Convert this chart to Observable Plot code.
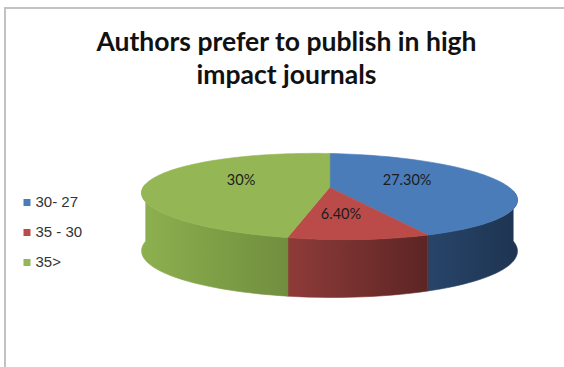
<!DOCTYPE html>
<html><head><meta charset="utf-8">
<script src="https://cdn.jsdelivr.net/npm/d3@7"></script>
<script src="https://cdn.jsdelivr.net/npm/@observablehq/plot@0.6"></script>
<style>
html,body{margin:0;padding:0;background:#fff;}
#wrap{position:relative;width:564px;height:367px;overflow:hidden;}
#wrap svg{position:absolute;left:0;top:0;}
#frame{position:absolute;left:4px;top:7px;width:560px;height:360px;border-left:2px solid #c2c2c2;border-top:2px solid #c2c2c2;pointer-events:none;}
</style></head><body><div id="wrap"><div id="frame"></div></div>
<script>
const titleLines = ["Authors prefer to publish in high", "impact journals"];
const categories = ["30- 27", "35 - 30", "35>"];
const values = [27.3, 6.4, 30];
const valueLabels = ["27.30%", "6.40%", "30%"];
const topColors = ["#4a7cb9", "#bb4b48", "#95b654"];
const wallStops = [["#28456a", "#1e3451"], ["#8e3b39", "#5c2524"], ["#8db04f", "#718e3e"]];

// pie geometry (3D perspective-like projection)
const cx = 329, cy = 187, C = 183.8, B = 41.1, k = 0.209, tilt = 3.5;
function proj(r, deg) {
  const t = deg * Math.PI / 180, X = r * Math.sin(t), Z = r * Math.cos(t), s = 1 / (1 + k * Z);
  return [cx + C * X * s, cy - B * Z * s + tilt * X * s];
}
function thick(deg) {
  const t = deg * Math.PI / 180, X = Math.sin(t), Z = Math.cos(t);
  return 53.6 - 4.4 * Z - 3.5 * X;
}
function angles(a0, a1) {
  const n = Math.max(2, Math.ceil((a1 - a0) / 2)), out = [];
  for (let j = 0; j <= n; j++) out.push(a0 + (a1 - a0) * j / n);
  return out;
}

const total = d3.sum(values);
let acc = 0;
const slices = values.map((v, i) => {
  const a0 = acc / total * 360; acc += v; const a1 = acc / total * 360;
  return {i, a0, a1, label: valueLabels[i]};
});

const wallData = [], topData = [];
slices.forEach(s => {
  const b0 = Math.max(s.a0, 90), b1 = Math.min(s.a1, 270);
  if (b1 > b0) {
    const angs = angles(b0, b1);
    angs.forEach(a => { const [x, y] = proj(1, a); wallData.push({i: s.i, x, y}); });
    angs.slice().reverse().forEach(a => { const [x, y] = proj(1, a); wallData.push({i: s.i, x, y: y + thick(a)}); });
  }
  topData.push({i: s.i, x: cx, y: cy});
  angles(s.a0, s.a1).forEach(a => { const [x, y] = proj(1, a); topData.push({i: s.i, x, y}); });
});

function labelPos(s) {
  const alpha = (s.a1 - s.a0) / 2 * Math.PI / 180;
  const d = 2 * Math.sin(alpha) / (3 * alpha);
  return proj(d, (s.a0 + s.a1) / 2);
}

const legend = categories.map((c, i) => ({c, i}));
const titles = titleLines.map((t, i) => ({t, i}));

const marks = [];
slices.forEach(s => {
  const pts = wallData.filter(d => d.i === s.i);
  if (pts.length) marks.push(Plot.line(pts, {x: "x", y: "y", curve: "linear-closed", fill: `url(#wall${s.i})`, stroke: `url(#wall${s.i})`, strokeWidth: 0.6}));
});
slices.forEach(s => {
  marks.push(Plot.line(topData.filter(d => d.i === s.i), {x: "x", y: "y", curve: "linear-closed", fill: topColors[s.i], stroke: topColors[s.i], strokeWidth: 0.6}));
});
marks.push(Plot.text(slices, {x: d => labelPos(d)[0], y: d => labelPos(d)[1], text: "label", dx: -7, dy: -4, fontFamily: "Lato", fontSize: 14.5, fill: "#1c1c1c"}));
marks.push(Plot.dot(legend, {x: 26.5, y: d => 202 + 30 * d.i, symbol: "square", r: 3.95, fill: d => topColors[d.i], stroke: null}));
marks.push(Plot.text(legend, {x: 35, y: d => 202 + 30 * d.i, text: "c", textAnchor: "start", lineAnchor: "middle", fontFamily: "Liberation Sans", fontSize: 15, fill: "#333"}));
marks.push(Plot.text(titles, {x: 286, y: d => 50 + 33 * d.i, text: "t", lineAnchor: "bottom", fontFamily: "Lato", fontWeight: "bold", fontSize: 26.5, fill: "#111"}));

const svg = Plot.plot({
  width: 564, height: 367, margin: 0,
  x: {domain: [0, 564], range: [0, 564], axis: null},
  y: {domain: [0, 367], range: [0, 367], axis: null},
  color: {type: "identity"},
  style: {background: "transparent", overflow: "visible"},
  marks
});
const defs = d3.select(svg).insert("defs", ":first-child");
wallStops.forEach((st, i) => {
  const g = defs.append("linearGradient").attr("id", `wall${i}`).attr("x1", 0).attr("x2", 1).attr("y1", 0).attr("y2", 0);
  g.append("stop").attr("offset", "0%").attr("stop-color", st[0]);
  g.append("stop").attr("offset", "100%").attr("stop-color", st[1]);
});
document.getElementById("wrap").insertBefore(svg, document.getElementById("frame"));
</script></body></html>
